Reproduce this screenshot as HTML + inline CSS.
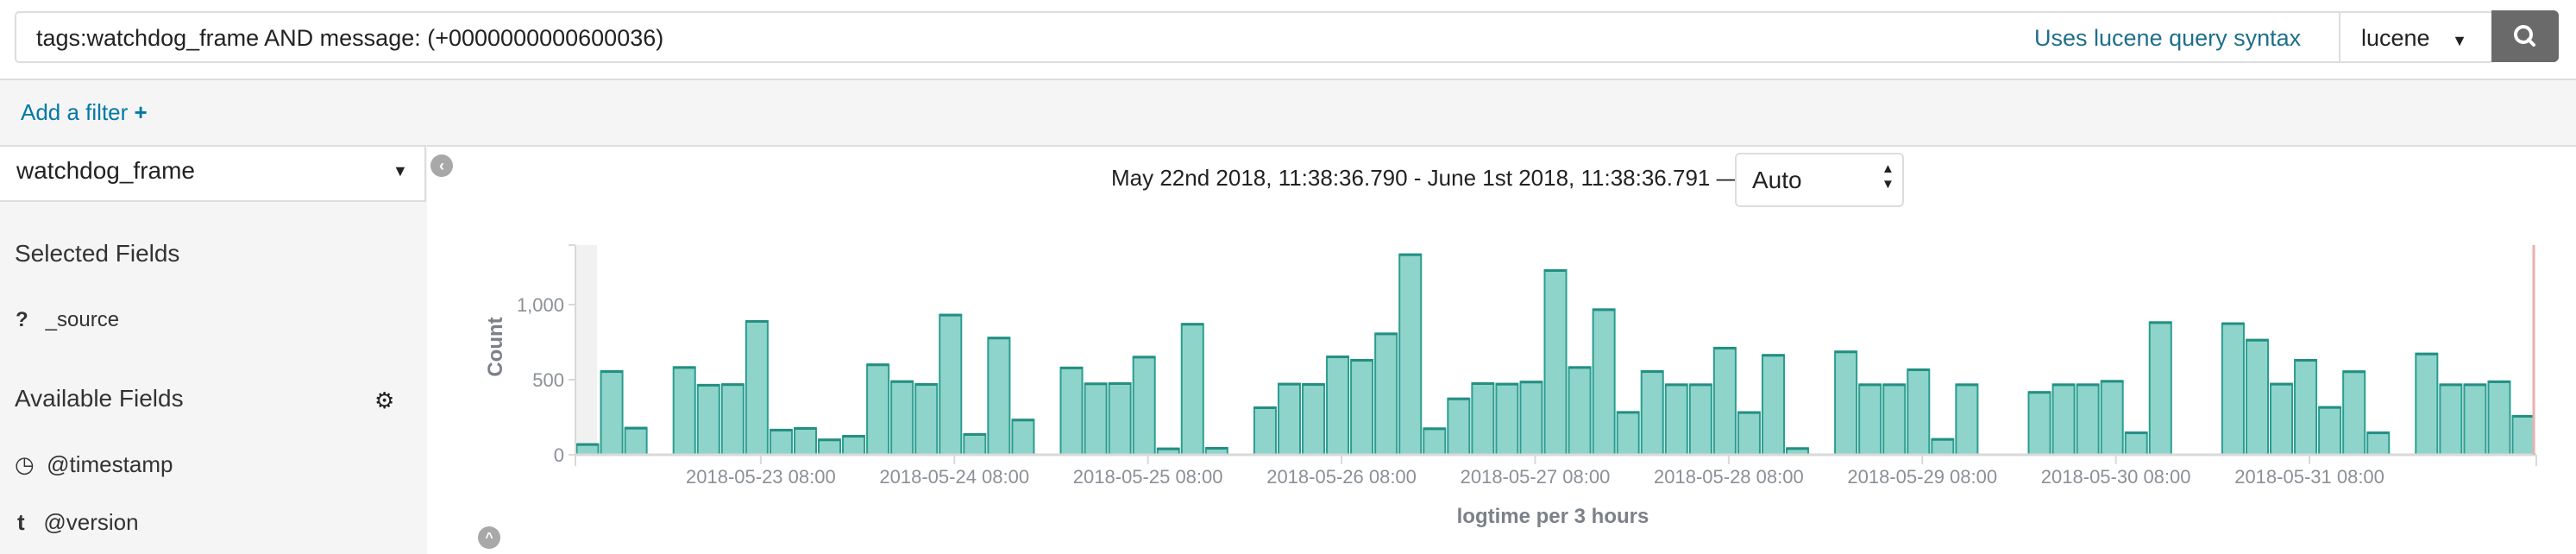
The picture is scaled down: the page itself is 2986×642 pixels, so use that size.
<!DOCTYPE html>
<html><head><meta charset="utf-8">
<style>
html,body{margin:0;padding:0;width:2986px;height:642px;overflow:hidden;background:#fff;font-family:"Liberation Sans",sans-serif;}
.abs{position:absolute;}
</style></head>
<body>
<div class="abs" style="left:17px;top:13px;width:2870px;height:56px;border:2px solid #ddd;border-radius:5px;background:#fff;"></div>
<div class="abs" style="left:42px;top:29px;font-size:27px;color:#222;">tags:watchdog_frame AND message: (+0000000000600036)</div>
<div class="abs" style="left:2358px;top:29px;font-size:27px;color:#1f6f8b;">Uses lucene query syntax</div>
<div class="abs" style="left:2711px;top:15px;width:2px;height:56px;background:#ddd;"></div>
<div class="abs" style="left:2737px;top:29px;font-size:27px;color:#222;">lucene <span style="font-size:18px;margin-left:18px;">▼</span></div>
<div class="abs" style="left:2888px;top:12px;width:78px;height:60px;background:#6a6a6a;border-radius:0 6px 6px 0;">
<svg width="78" height="60"><circle cx="37" cy="28" r="9" fill="none" stroke="#fff" stroke-width="4"/><line x1="43" y1="34" x2="49" y2="40" stroke="#fff" stroke-width="4" stroke-linecap="round"/></svg></div>
<div class="abs" style="left:0;top:91px;width:2986px;height:75px;background:#f5f5f5;border-top:2px solid #ddd;border-bottom:2px solid #ddd;"></div>
<div class="abs" style="left:24px;top:115px;font-size:26px;color:#0079a5;">Add a filter <b>+</b></div>
<div class="abs" style="left:0;top:168px;width:495px;height:474px;background:#f5f5f5;"></div>
<div class="abs" style="left:0;top:168px;width:492px;height:62px;background:#fff;border:2px solid #ddd;border-left:none;"></div>
<div class="abs" style="left:19px;top:182px;font-size:28px;color:#222;">watchdog_frame</div>
<div class="abs" style="left:455px;top:188px;font-size:18px;color:#222;">▼</div>
<div class="abs" style="left:17px;top:278px;font-size:28px;color:#333;">Selected Fields</div>
<div class="abs" style="left:18px;top:357px;font-size:24px;color:#333;"><b>?</b>&nbsp;&nbsp;&nbsp;_source</div>
<div class="abs" style="left:17px;top:446px;font-size:28px;color:#333;">Available Fields</div>
<div class="abs" style="left:434px;top:449px;font-size:26px;color:#222;">⚙</div>
<div class="abs" style="left:17px;top:523px;font-size:26px;color:#333;">◷&nbsp;&nbsp;@timestamp</div>
<div class="abs" style="left:20px;top:590px;font-size:26px;color:#333;"><b>t</b>&nbsp;&nbsp;&nbsp;@version</div>
<div class="abs" style="left:499px;top:179px;width:26px;height:26px;border-radius:50%;background:#a8a8a8;color:#fff;font-size:18px;line-height:26px;text-align:center;font-weight:bold;">‹</div>
<div class="abs" style="left:554px;top:610px;width:26px;height:26px;border-radius:50%;background:#a8a8a8;color:#fff;font-size:16px;line-height:28px;text-align:center;font-weight:bold;">^</div>
<div class="abs" style="left:1288px;top:191px;font-size:26px;color:#222;">May 22nd 2018, 11:38:36.790 - June 1st 2018, 11:38:36.791 —</div>
<div class="abs" style="left:2011px;top:177px;width:192px;height:59px;border:2px solid #ddd;border-radius:6px;background:#fff;">
<span style="position:absolute;left:18px;top:14px;font-size:28px;color:#222;">Auto</span>
<span style="position:absolute;left:168px;top:8px;font-size:15px;line-height:18px;color:#222;">▲<br>▼</span></div>
<svg class="abs" style="left:0;top:0" width="2986" height="642" id="chart"></svg>
<script>
const counts=[71,557,180,0,584,466,470,891,167,178,102,126,602,490,471,933,138,780,234,0,581,475,477,653,42,872,46,0,316,473,471,655,632,808,1335,176,375,477,473,487,1230,584,969,285,557,469,469,713,284,665,44,0,688,469,469,569,105,469,0,0,418,469,469,492,149,883,0,0,876,766,473,632,318,556,149,0,674,469,469,489,259];
const yTicks=[0,500,1000];
const yTickLabels=["0","500","1,000"];
const xTickLabels=["2018-05-23 08:00","2018-05-24 08:00","2018-05-25 08:00","2018-05-26 08:00","2018-05-27 08:00","2018-05-28 08:00","2018-05-29 08:00","2018-05-30 08:00","2018-05-31 08:00"];
const NS="http://www.w3.org/2000/svg";
const svg=document.getElementById('chart');
const x0=667,step=28.05,y0=527,pxPer=0.174;
const xBar=i=>x0+step*i;
const yVal=v=>y0-v*pxPer;
const xTick=i=>xBar(7.66)+step*8*i;
function mk(tag,attrs,parent){const e=document.createElementNS(NS,tag);for(const k in attrs)e.setAttribute(k,attrs[k]);(parent||svg).appendChild(e);return e;}
let r=mk('rect',{x:x0,y:284,width:25,height:243,fill:'#f1f1f1'});


counts.forEach((v,i)=>{if(v<=0)return;
 const b=mk('rect',{x:xBar(i)+1.5,y:yVal(v),width:step-3,height:y0-yVal(v),fill:'#8ed4ca',stroke:'#2a9e90','stroke-width':2});
 
 
 const t=mk('rect',{x:xBar(i)+1.5,y:yVal(v)-1,width:step-3,height:3,fill:'#238f81'});
 
 
});
let ax=mk('line',{x1:x0,y1:y0,x2:2940,y2:y0,stroke:'#d9d9d9','stroke-width':3});


let ay=mk('line',{x1:x0,y1:284,x2:x0,y2:540,stroke:'#d9d9d9','stroke-width':2});


mk('line',{x1:x0-8,y1:284,x2:x0,y2:284,stroke:'#d9d9d9','stroke-width':2});
mk('line',{x1:2940,y1:527,x2:2940,y2:540,stroke:'#d9d9d9','stroke-width':2});
yTicks.forEach((v,i)=>{
 mk('line',{x1:x0-8,y1:yVal(v),x2:x0,y2:yVal(v),stroke:'#d9d9d9','stroke-width':2});
 const t=mk('text',{x:x0-13,y:yVal(v)+8,'text-anchor':'end','font-size':22,fill:'#8a9096','font-family':'Liberation Sans, sans-serif'});
 t.textContent=yTickLabels[i];
 
 
});
xTickLabels.forEach((s,i)=>{
 const x=xTick(i);
 mk('line',{x1:x,y1:y0,x2:x,y2:y0+11,stroke:'#d9d9d9','stroke-width':2});
 const t=mk('text',{x:x,y:560,'text-anchor':'middle','font-size':22,fill:'#8a9096','font-family':'Liberation Sans, sans-serif'});
 t.textContent=s;
 
 
});
let red=mk('line',{x1:2937,y1:284,x2:2937,y2:527,stroke:'#eab0b0','stroke-width':3});


let yt=mk('text',{x:582,y:402,'text-anchor':'middle','font-size':24,'font-weight':'bold',fill:'#7b8188',transform:'rotate(-90 582 402)','font-family':'Liberation Sans, sans-serif'});
yt.textContent='Count';


let xt=mk('text',{x:1800,y:606,'text-anchor':'middle','font-size':24,'font-weight':'bold',fill:'#7b8188','font-family':'Liberation Sans, sans-serif'});
xt.textContent='logtime per 3 hours';


</script>
</body></html>
